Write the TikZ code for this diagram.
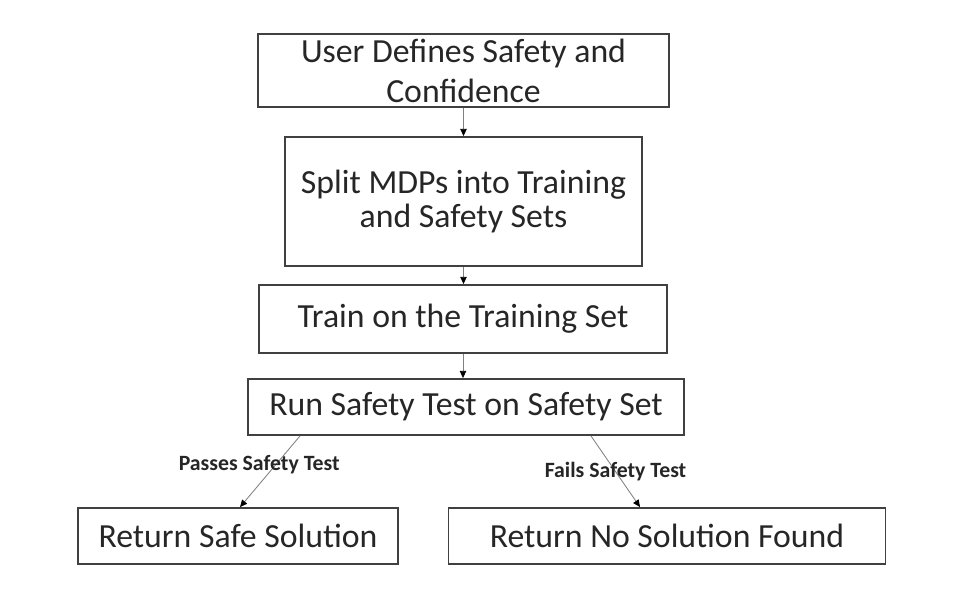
\documentclass[tikz,border=0pt]{standalone}
\usepackage{fontspec}
\setmainfont{Carlito}
\usetikzlibrary{arrows.meta,calc}

\tikzset{
  stepbox/.style = {draw=black!75, line width=1.3pt, text=black!85,
    inner sep=0pt, align=center, font=\fontsize{24}{28.5}\selectfont},
  flow/.style = {draw=black!50, line width=.6pt,
    -{Triangle[length=1.8mm, width=1.6mm, black]}},
  lbl/.style = {text=black!85, font=\bfseries\fontsize{15.5}{18}\selectfont}
}

\begin{document}
\begin{tikzpicture}
      [x = .025cm, y = -.025cm]
      \useasboundingbox (0,0) rectangle (960,600);
      \node[stepbox, minimum width=10.275cm, minimum height=1.825cm]
        (define) at (463.5,70.5) {User Defines Safety and\\Confidence};
      \node[stepbox, minimum width=8.925cm, minimum height=3.225cm,
        font=\fontsize{24}{24.5}\selectfont]
        (split) at (463.5,201.5) {Split MDPs into Training\\and Safety Sets};
      \node[stepbox, minimum width=10.2cm, minimum height=1.7cm]
        (train) at (463,319) {Train on the Training Set};
      \node[stepbox, minimum width=10.9cm, minimum height=1.4cm]
        (test) at (466,407) {Run Safety Test on Safety Set};
      \node[stepbox, minimum width=8cm, minimum height=1.4cm]
        (safe) at (238,536) {Return Safe Solution};
      \node[stepbox, minimum width=10.925cm, minimum height=1.4cm]
        (none) at (667,536) {Return No Solution Found};
      \foreach \a/\b in {define/split, split/train, train/test}
        \draw[flow] (\a.south) -- (\a.south |- \b.north);
      \draw[flow] ($(test.south west)+(53,0)$) -- ($(safe.north)+(2,0)$)
        node[lbl, pos=.4, xshift=-.42cm] {Passes Safety Test};
      \draw[flow] ($(test.south)+(125,0)$) -- ($(none.north)+(-27,0)$)
        node[lbl, midway] {Fails Safety Test};
\end{tikzpicture}
\end{document}
